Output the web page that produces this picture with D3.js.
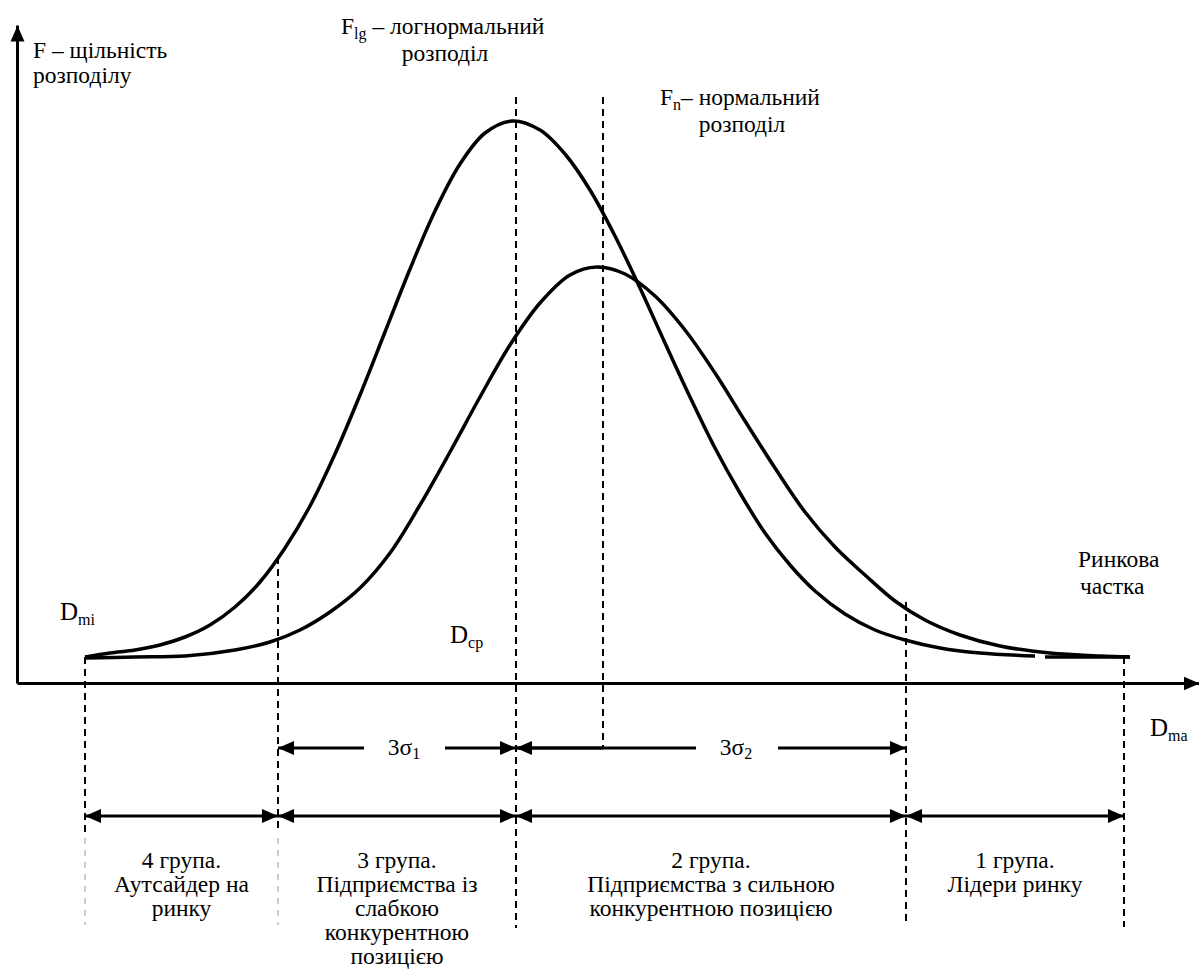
<!DOCTYPE html>
<html>
<head>
<meta charset="utf-8">
<script src="https://cdn.jsdelivr.net/npm/d3@7/dist/d3.min.js"></script>
<style>
  body { margin: 0; background: #fff; }
</style>
</head>
<body>
<div id="chart"></div>
<script>
// readings: x = distance from the origin along the axis, y = height above the x axis
const logX = [68, 93, 118, 143, 168, 193, 218, 243, 268, 293, 318, 343, 368, 393, 418, 443, 468, 495, 523, 548, 573, 598, 623, 648, 673, 698, 723, 748, 773, 798, 828, 858, 888, 923, 963, 1018, 1023, 1028, 1113];
const logY = [26, 30, 33, 38, 46, 58, 76, 101, 135, 177, 229, 288, 351, 414, 472, 519, 550, 562, 553, 529, 493, 447, 395, 340, 286, 235, 190, 150, 118, 92, 69, 53, 43, 35, 30, 27, null, 26, 26];

const normX = [68, 118, 168, 218, 253, 283, 313, 343, 373, 403, 433, 463, 493, 523, 553, 580, 608, 638, 668, 698, 728, 758, 788, 818, 848, 878, 908, 943, 983, 1033, 1083, 1113];
const normY = [25, 26, 27, 33, 41, 53, 71, 95, 130, 178, 231, 286, 338, 380, 408, 416, 409, 387, 353, 310, 262, 215, 171, 136, 108, 82, 63, 48, 37, 30, 27, 26];

// vertical dashed guides: Dmin, 3σ1 bound, Dср, normal peak, 3σ2 bound, Dmax
const guideX      = [68, 261, 499, 586, 889, 1107];
const guideTop    = [26, 126, 586, 586, 81, 26];
const guideBottom = [-242, -242, -245, -65, -242, -244];

// group ranges (between guides) and their captions
const groupFrom = [68, 261, 499, 889];
const groupTo   = [261, 499, 889, 1107];
const groupText = [
  ["4 група.", "Аутсайдер на", "ринку"],
  ["3 група.", "Підприємства із", "слабкою", "конкурентною", "позицією"],
  ["2 група.", "Підприємства з сильною", "конкурентною позицією"],
  ["1 група.", "Лідери ринку"]
];

// 3σ spans
const sigmaFrom = [261, 499];
const sigmaTo   = [499, 889];
const sigmaIdx  = ["1", "2"];

const W = 1199, H = 972;
const FONT = "Liberation Serif";
const FS = 23.5, SUB = 16;
const x = d3.scaleLinear().domain([0, 1182]).range([17, 1199]);
const y = d3.scaleLinear().domain([0, 658]).range([683, 25]);

const svg = d3.select("#chart").append("svg")
  .attr("width", W).attr("height", H)
  .attr("font-family", FONT);

const defs = svg.append("defs");
defs.append("marker")
  .attr("id", "head")
  .attr("markerUnits", "userSpaceOnUse")
  .attr("viewBox", "0 -8 16 16")
  .attr("refX", 16).attr("refY", 0)
  .attr("markerWidth", 16).attr("markerHeight", 16)
  .attr("orient", "auto-start-reverse")
  .append("path").attr("d", "M0,-7L16,0L0,7Z").attr("fill", "#000");

// axes without ticks
const xAxis = svg.append("g")
  .attr("transform", `translate(0,${y(0)})`)
  .call(d3.axisBottom(x).tickValues([]).tickSizeOuter(0));
xAxis.select(".domain").attr("stroke", "#000").attr("stroke-width", 3).attr("marker-end", "url(#head)");

const yAxis = svg.append("g")
  .attr("transform", `translate(${x(0)},0)`)
  .call(d3.axisLeft(y).tickValues([]).tickSizeOuter(0));
yAxis.select(".domain").attr("stroke", "#000").attr("stroke-width", 3).attr("marker-end", "url(#head)");

// dashed guides
guideX.forEach((gx, i) => {
  const bold = (i < 2) ? -149 : guideBottom[i];
  svg.append("line")
    .attr("x1", x(gx)).attr("x2", x(gx))
    .attr("y1", y(guideTop[i])).attr("y2", y(bold))
    .attr("stroke", "#000").attr("stroke-width", 2)
    .attr("stroke-dasharray", "7,5");
  if (i < 2) {
    svg.append("line")
      .attr("x1", x(gx)).attr("x2", x(gx))
      .attr("y1", y(-155)).attr("y2", y(guideBottom[i]))
      .attr("stroke", "#999").attr("stroke-width", 1)
      .attr("stroke-dasharray", "6,6");
  }
});

// curves
const line = d3.line()
  .defined(d => d[1] !== null)
  .x(d => x(d[0])).y(d => y(d[1]))
  .curve(d3.curveCatmullRom.alpha(0.5));

svg.append("path")
  .datum(logX.map((v, i) => [v, logY[i]]))
  .attr("d", line)
  .attr("fill", "none").attr("stroke", "#000").attr("stroke-width", 3.5);

svg.append("path")
  .datum(normX.map((v, i) => [v, normY[i]]))
  .attr("d", line)
  .attr("fill", "none").attr("stroke", "#000").attr("stroke-width", 3.5);

// text helpers
function txt(px, py, anchor, size) {
  return svg.append("text").attr("x", px).attr("y", py)
    .attr("font-family", FONT).style("font-family", FONT)
    .attr("font-size", size || FS).attr("fill", "#000")
    .attr("text-anchor", anchor || "start");
}
function span(t, s, size, dy) {
  const sp = t.append("tspan").attr("font-size", size || FS).text(s);
  if (dy) sp.attr("dy", dy);
  return sp;
}

// 3σ arrows with a gap for the caption
const sigmaY = y(-65);
const sigmaGap = [[347, 428], [679, 761]];
const sigmaTextX = [387, 719];
sigmaFrom.forEach((f, i) => {
  svg.append("line")
    .attr("x1", x(sigmaGap[i][0])).attr("x2", x(f))
    .attr("y1", sigmaY).attr("y2", sigmaY)
    .attr("stroke", "#000").attr("stroke-width", 3)
    .attr("marker-end", "url(#head)");
  svg.append("line")
    .attr("x1", x(sigmaGap[i][1])).attr("x2", x(sigmaTo[i]))
    .attr("y1", sigmaY).attr("y2", sigmaY)
    .attr("stroke", "#000").attr("stroke-width", 3)
    .attr("marker-end", "url(#head)");
  const t = txt(x(sigmaTextX[i]), sigmaY + 7, "middle");
  span(t, "3σ");
  span(t, sigmaIdx[i], SUB, 4);
});
// short stub from Dср to the peak guide
svg.append("line")
  .attr("x1", x(499)).attr("x2", x(586))
  .attr("y1", sigmaY).attr("y2", sigmaY)
  .attr("stroke", "#000").attr("stroke-width", 3);

// group arrows and captions
const groupY = y(-133);
groupFrom.forEach((f, i) => {
  svg.append("line")
    .attr("x1", x(f)).attr("x2", x(groupTo[i]))
    .attr("y1", groupY).attr("y2", groupY)
    .attr("stroke", "#000").attr("stroke-width", 3)
    .attr("marker-start", "url(#head)")
    .attr("marker-end", "url(#head)");
  const cx = x((f + groupTo[i]) / 2);
  groupText[i].forEach((s, j) => {
    txt(cx, 868 + j * 24, "middle").text(s);
  });
});

// labels with subscripts
function label(px, py, main, sub, rest, anchor, size) {
  if (!sub) return txt(px, py, anchor, size).text(main);
  const t = txt(px, py, anchor, size);
  span(t, main, size);
  span(t, sub, SUB, 5);
  if (rest) span(t, rest, size, -5);
  return t;
}

label(33, 58, "F – щільність");
label(33, 83, "розподілу");
label(341, 34, "F", "lg", " – логнормальний");
label(445, 61, "розподіл", null, null, "middle");
label(660, 105, "F", "n", "– нормальний");
label(742, 132, "розподіл", null, null, "middle");
label(60, 620, "D", "mi", null, "start", 25);
label(450, 643, "D", "cp", null, "start", 25);
label(1078, 567, "Ринкова");
label(1080, 594, "частка");
label(1150, 736, "D", "ma", null, "start", 25);
</script>
</body>
</html>
